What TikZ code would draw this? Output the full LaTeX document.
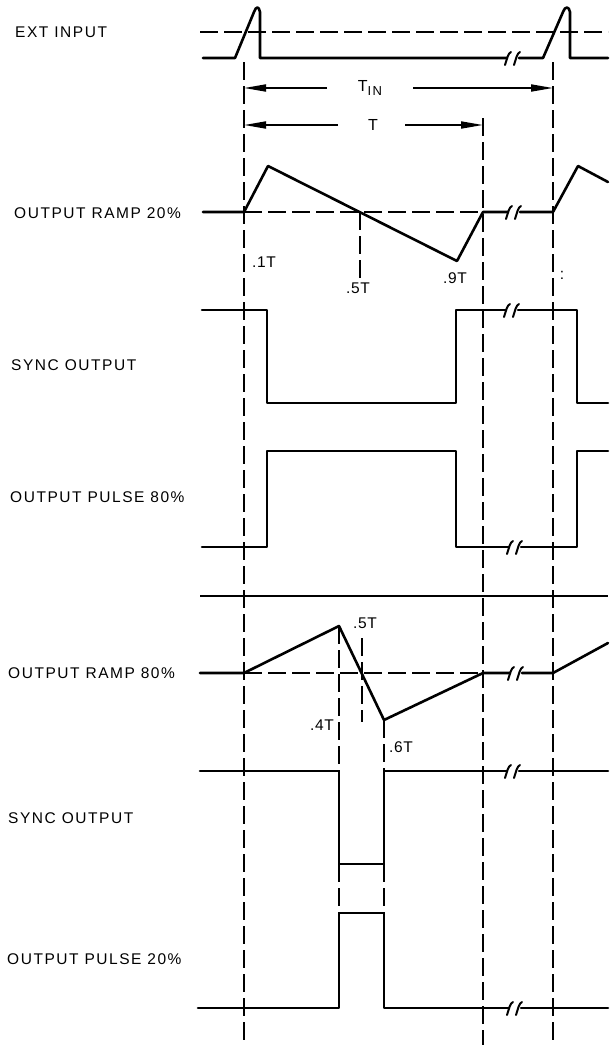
\documentclass[tikz,border=0pt]{standalone}
\usepackage{fontspec}
\usetikzlibrary{arrows.meta}
\newfontfamily\lblfont[LetterSpace=10]{Liberation Sans}
\newfontfamily\smfont[LetterSpace=4]{Liberation Sans}
\newcommand\brkmark[2]{%
  \draw[brk] (#1-8,#2+7) .. controls (#1-6,#2+1) and (#1-5,#2-5) .. (#1-2,#2-6);
  \draw[brk] (#1+1,#2+7) .. controls (#1+3,#2+1) and (#1+4,#2-5) .. (#1+7,#2-6);}
\begin{document}
\begin{tikzpicture}[x=1pt,y=-1pt,
  sig/.style={line width=2.6pt, line join=round, line cap=round},
  brk/.style={line width=2pt, line cap=round},
  dsh/.style={line width=1.5pt, dash pattern=on 18pt off 6pt},
  arr/.style={line width=1.8pt, -{Triangle[length=22pt,width=7pt]}},
  lbl/.style={font=\lblfont\fontsize{15.5}{17}\selectfont, anchor=west, inner sep=0pt},
  sml/.style={font=\smfont\fontsize{15.5}{17}\selectfont, inner sep=0pt}]
\useasboundingbox (0,0) rectangle (613,1045);

% labels
\node[lbl] (l1) at (15,32) {EXT INPUT};
\node[lbl] (l2) at (14,213) {OUTPUT RAMP 20\%};
\node[lbl] (l3) at (11,365) {SYNC OUTPUT};
\node[lbl] (l4) at (10,497) {OUTPUT PULSE 80\%};
\node[lbl] (l5) at (8,673) {OUTPUT RAMP 80\%};
\node[lbl] (l6) at (8,818) {SYNC OUTPUT};
\node[lbl] (l7) at (7,959) {OUTPUT PULSE 20\%};

% main vertical dashed lines
\draw[dsh] (244,62) -- (244,1045);
\draw[dsh] (483,118) -- (483,1045);
\draw[dsh] (553,62) -- (553,1045);

% EXT INPUT
\draw[dsh] (200,32) -- (608,32);
\draw[sig] (203,58) -- (235,58) -- (254,12) .. controls (256,6) and (259,6) .. (260,12) -- (260,58) -- (507,58);
\draw[sig] (519,58) -- (543,58) -- (563,12) .. controls (565,6) and (569,6) .. (570,12) -- (570,58) -- (608,58);
\brkmark{513}{58}

% T_IN and T arrows
\node[sml, font=\lblfont\fontsize{16}{18}\selectfont] (tin) at (370,88) {T\raisebox{-0.5ex}{\fontsize{13}{15}\selectfont IN}};
\draw[arr] (327,88) -- (244,88);
\draw[arr] (413,88) -- (553,88);
\node[sml, font=\lblfont\fontsize{16}{18}\selectfont] (t) at (373,125) {T};
\draw[arr] (338,125) -- (244,125);
\draw[arr] (405,125) -- (483,125);

% OUTPUT RAMP 20%
\draw[dsh] (244,212) -- (483,212);
\draw[dsh] (360,212) -- (360,278);
\draw[sig] (203,212) -- (244,212) -- (268,166) -- (457,261) -- (483,212) -- (508,212);
\draw[sig] (520,212) -- (553,212) -- (578,166) -- (608,182);
\brkmark{514}{212}
\node[sml, anchor=west] (p1) at (252,262) {.1T};
\node[sml] (p5) at (358,288) {.5T};
\node[sml] (p9) at (455,278) {.9T};
\node[sml] (pc) at (562,275) {:};

% SYNC OUTPUT 1
\draw[sig] (202,310) -- (267,310) -- (267,403) -- (456,403) -- (456,310) -- (506,310);
\draw[sig] (518,310) -- (577,310) -- (577,403) -- (608,403);
\brkmark{512}{310}

% OUTPUT PULSE 80%
\draw[sig] (202,547) -- (267,547) -- (267,451) -- (456,451) -- (456,547) -- (509,547);
\draw[sig] (521,547) -- (577,547) -- (577,451) -- (608,451);
\brkmark{515}{547}

% separator
\draw[line width=1.3pt] (200,596) -- (608,596);

% OUTPUT RAMP 80%
\draw[dsh] (244,673) -- (483,673);
\draw[dsh] (339,626) -- (339,771);
\draw[dsh] (362,638) -- (362,722);
\draw[dsh] (384,720) -- (384,771);
\draw[dsh] (339,864) -- (339,913);
\draw[dsh] (384,864) -- (384,913);
\draw[sig] (200,673) -- (244,673) -- (339,626) -- (384,720) -- (483,673) -- (510,673);
\draw[sig] (522,673) -- (553,673) -- (608,643);
\brkmark{516}{673}
\node[sml, anchor=east] (q4) at (334,725) {.4T};
\node[sml, anchor=west] (q5) at (353,623) {.5T};
\node[sml, anchor=west] (q6) at (389,747) {.6T};

% SYNC OUTPUT 2
\draw[sig] (200,771) -- (339,771) -- (339,864) -- (384,864) -- (384,771) -- (507,771);
\draw[sig] (519,771) -- (608,771);
\brkmark{513}{771}

% OUTPUT PULSE 20%
\draw[sig] (198,1008) -- (339,1008) -- (339,913) -- (384,913) -- (384,1008) -- (509,1008);
\draw[sig] (521,1008) -- (608,1008);
\brkmark{515}{1008}
\end{tikzpicture}
\end{document}
